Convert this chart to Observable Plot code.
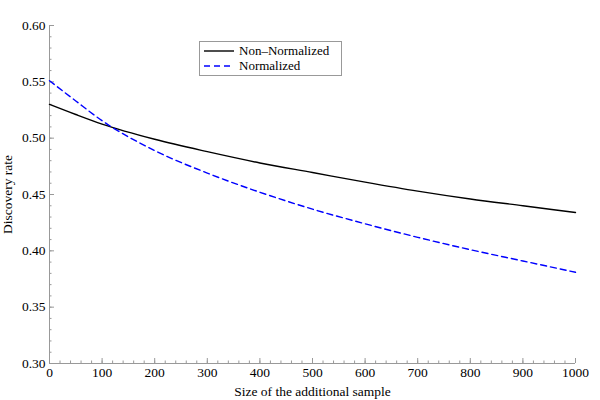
<!DOCTYPE html>
<html>
<head>
<meta charset="utf-8">
<script src="https://cdn.jsdelivr.net/npm/d3@7"></script>
<script src="https://cdn.jsdelivr.net/npm/@observablehq/plot@0.6"></script>
<style>
  body { margin: 0; background: #fff; }
  #wrap { position: relative; width: 600px; height: 400px; font-family: "Liberation Serif", "Times New Roman", serif; }
  #legend { position: absolute; left: 199px; top: 41px; width: 143px; height: 35px; border: 1px solid #999; background: #fff; font-size: 13px; box-sizing: border-box; }
  #legend .row { position: absolute; left: 4px; height: 12px; line-height: 12px; display: flex; align-items: center; white-space: nowrap; }
  #legend span { line-height: 12px; }
  #legend svg { margin-right: 5px; }
</style>
</head>
<body>
<div id="wrap"><div id="legend"></div></div>
<script>
// ---- data ----
const sampleSize    = [0, 50, 100, 200, 300, 400, 500, 600, 700, 800, 900, 1000];
const nonNormalized = [0.530, 0.521, 0.5125, 0.499, 0.488, 0.478, 0.4695, 0.461, 0.453, 0.446, 0.440, 0.434];
const normalized    = [0.551, 0.533, 0.5155, 0.489, 0.469, 0.452, 0.437, 0.424, 0.412, 0.401, 0.391, 0.381];
const seriesNames   = ["Non\u2013Normalized", "Normalized"];
const seriesColors  = ["black", "#0000ff"];
const seriesDash    = [null, "6,4"];
const xTicks  = [0, 100, 200, 300, 400, 500, 600, 700, 800, 900, 1000];
const xMinor  = d3.range(0, 1001, 20);
const yTicks  = [0.30, 0.35, 0.40, 0.45, 0.50, 0.55, 0.60];
const yMinor  = d3.range(30, 61).map(d => d / 100);
const xLabel  = "Size of the additional sample";
const yLabel  = "Discovery rate";

const rowsA = sampleSize.map((x, i) => ({x, y: nonNormalized[i]}));
const rowsB = sampleSize.map((x, i) => ({x, y: normalized[i]}));
const axisColor = "#999";
const fontStack = '"Liberation Serif", "Times New Roman", serif';

const plot = Plot.plot({
  width: 600, height: 400,
  marginLeft: 49, marginRight: 25, marginTop: 25, marginBottom: 37,
  style: { fontFamily: fontStack, fontSize: "13.5px", color: "black", background: "transparent" },
  x: { domain: [0, 1000] },
  y: { domain: [0.30, 0.60] },
  marks: [
    Plot.ruleY([0.30], { stroke: axisColor }),
    Plot.ruleX([0], { stroke: axisColor }),
    Plot.axisX(xMinor, { tickSize: 2.5, dy: -2.5, stroke: axisColor, fill: "none", label: null }),
    Plot.axisX(xTicks, { tickSize: 5, dy: -5, stroke: axisColor, fill: "none", label: null }),
    Plot.axisX(xTicks, { tickSize: 0, tickPadding: 4, stroke: "none", fill: "black", tickFormat: d => String(d),
                         label: xLabel, labelAnchor: "center", labelOffset: 32, labelArrow: "none" }),
    Plot.axisY(yMinor, { tickSize: 2.5, dx: 2.5, stroke: axisColor, fill: "none", label: null }),
    Plot.axisY(yTicks, { tickSize: 5, dx: 5, stroke: axisColor, fill: "none", label: null }),
    Plot.axisY(yTicks, { tickSize: 0, tickPadding: 4, stroke: "none", fill: "black", tickFormat: d3.format(".2f"),
                         label: yLabel, labelAnchor: "center", labelOffset: 47, labelArrow: "none" }),
    Plot.line(rowsA, { x: "x", y: "y", stroke: seriesColors[0], strokeWidth: 1.4, curve: "monotone-x" }),
    Plot.line(rowsB, { x: "x", y: "y", stroke: seriesColors[1], strokeWidth: 1.4, strokeDasharray: seriesDash[1], curve: "monotone-x" })
  ]
});
plot.style.fontFamily = fontStack;
const wrap = document.getElementById("wrap");
wrap.insertBefore(plot, wrap.firstChild);

// legend
const legend = document.getElementById("legend");
seriesNames.forEach((name, i) => {
  const row = document.createElement("div");
  row.className = "row";
  row.style.top = (i === 0 ? 3 : 17.5) + "px";
  row.innerHTML = `<svg width="30" height="6"><line x1="0" y1="3" x2="30" y2="3" stroke="${seriesColors[i]}" stroke-width="1.4" ${seriesDash[i] ? `stroke-dasharray="${seriesDash[i]}"` : ""}/></svg><span>${name}</span>`;
  legend.appendChild(row);
});
</script>
</body>
</html>
